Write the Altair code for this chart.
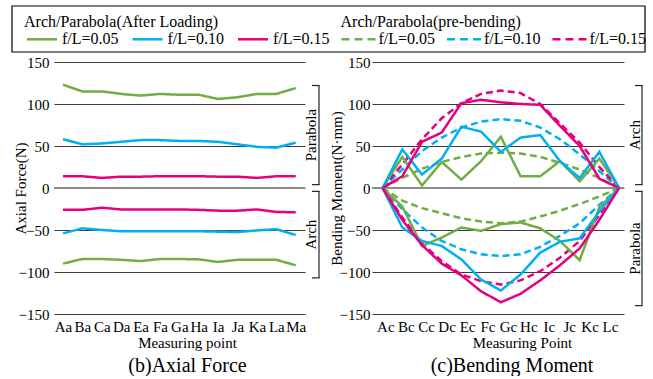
import altair as alt
import pandas as pd

FONT = "Liberation Serif"

fl_labels = ["f/L=0.05", "f/L=0.10", "f/L=0.15"]
fl_colors = ["#70AD47", "#00B0F0", "#E6007E"]

axial_points = ["Aa", "Ba", "Ca", "Da", "Ea", "Fa", "Ga", "Ha", "Ia", "Ja", "Ka", "La", "Ma"]
moment_labels = ["Ac", "Bc", "Cc", "Dc", "Ec", "Fc", "Gc", "Hc", "Ic", "Jc", "Kc", "Lc"]

# (b) Axial force (N) after loading
axial_parabola_005 = [123, 115, 115, 112, 110, 112, 111, 111, 106, 108, 112, 112, 119]
axial_parabola_010 = [58, 52, 53, 55, 57, 57, 56, 56, 55, 52, 49, 48, 54]
axial_parabola_015 = [14, 14, 12, 13.5, 13.5, 14, 14, 14, 13.5, 13.5, 12, 14, 14]
axial_arch_005 = [-90, -84.5, -84.5, -85.5, -87, -84.5, -84.5, -85, -88, -85.5, -85.5, -85.5, -92]
axial_arch_010 = [-54, -48, -50, -51.5, -51.5, -51.5, -51.5, -51.5, -52, -52.5, -50.5, -49, -56]
axial_arch_015 = [-26, -26, -23.5, -25.5, -25.5, -25.5, -25.5, -26, -27, -27, -25.5, -28.5, -29]

# (c) Bending moment (N*mm), 13 measured points
arch_after_005 = [0, 37, 3, 31, 10, 32, 61, 14, 14, 32, 8, 35, 0]
arch_after_010 = [0, 46, 16, 35, 73, 67, 43, 60, 63, 32, 12, 43, 0]
arch_after_015 = [0, 14, 55, 66, 101, 105, 102, 100, 99, 74, 50, 11, 0]
parab_after_005 = [0, -22, -69, -59, -47, -51, -43, -41, -48, -63, -86, -23, 0]
parab_after_010 = [0, -47, -63, -69, -85, -109, -122, -103, -77, -64, -60, -28, 0]
parab_after_015 = [0, -38, -68, -90, -104, -123, -136, -126, -110, -92, -72, -38, 0]
arch_pre_005 = [0, 12, 23, 31, 37, 41, 42, 41, 37, 30, 22, 12, 0]
arch_pre_010 = [0, 22, 44, 60, 72, 79, 82, 80, 72, 58, 40, 20, 0]
arch_pre_015 = [0, 28, 58, 83, 101, 112, 116, 113, 100, 77, 54, 25, 0]
parab_pre_005 = [0, -15, -24, -30, -36, -40, -42, -40, -34, -27, -19, -10, 0]
parab_pre_010 = [0, -25, -47, -63, -73, -79, -81, -79, -70, -57, -42, -20, 0]
parab_pre_015 = [0, -35, -66, -87, -103, -111, -115, -110, -99, -83, -63, -32, 0]

axial_bracket_labels = ["Parabola", "Arch"]
axial_bracket_top = [122, -4]
axial_bracket_bottom = [4, -107]
moment_bracket_labels = ["Arch", "Parabola"]
moment_bracket_top = [122, -4]
moment_bracket_bottom = [4, -140]

legend_titles = ["Arch/Parabola(After Loading)", "Arch/Parabola(pre-bending)"]


def long_df(series):
    rows = []
    for name, fl, kind, vals in series:
        for i, v in enumerate(vals):
            rows.append({"series": name, "fl": fl, "kind": kind, "idx": i, "value": v})
    return pd.DataFrame(rows)


axial_df = long_df([
    ("p005", fl_labels[0], "after", axial_parabola_005),
    ("p010", fl_labels[1], "after", axial_parabola_010),
    ("p015", fl_labels[2], "after", axial_parabola_015),
    ("a005", fl_labels[0], "after", axial_arch_005),
    ("a010", fl_labels[1], "after", axial_arch_010),
    ("a015", fl_labels[2], "after", axial_arch_015),
])

moment_df = long_df([
    ("ap005", fl_labels[0], "pre", arch_pre_005),
    ("ap010", fl_labels[1], "pre", arch_pre_010),
    ("ap015", fl_labels[2], "pre", arch_pre_015),
    ("pp005", fl_labels[0], "pre", parab_pre_005),
    ("pp010", fl_labels[1], "pre", parab_pre_010),
    ("pp015", fl_labels[2], "pre", parab_pre_015),
    ("aa005", fl_labels[0], "after", arch_after_005),
    ("aa010", fl_labels[1], "after", arch_after_010),
    ("aa015", fl_labels[2], "after", arch_after_015),
    ("pa005", fl_labels[0], "after", parab_after_005),
    ("pa010", fl_labels[1], "after", parab_after_010),
    ("pa015", fl_labels[2], "after", parab_after_015),
])

Y_DOMAIN = [-150, 150]
Y_TICKS = [-150, -100, -50, 0, 50, 100, 150]
color_scale = alt.Scale(domain=fl_labels, range=fl_colors)
dash_scale = alt.Scale(domain=["after", "pre"], range=[[1, 0], [7, 4]])


def y_axis(title, title_x, label_pad):
    return alt.Axis(
        values=Y_TICKS, grid=True, gridColor="#3c3c3c", gridWidth=1,
        domain=False, ticks=False, labelFont=FONT, labelFontSize=15,
        labelColor="black", labelPadding=label_pad, labelFlush=False,
        title=title, titleFont=FONT, titleFontSize=15, titleFontWeight="normal",
        titleColor="black", titleX=title_x, titleAngle=270, titleBaseline="bottom",
        titleAlign="center",
    )


def x_axis(title, values, label_expr, title_x):
    return alt.Axis(
        values=values, labelExpr=label_expr, grid=False, domain=False, ticks=False,
        labelFont=FONT, labelFontSize=15, labelColor="black", labelPadding=5,
        labelFlush=False, labelOverlap=False, labelAngle=0,
        title=title, titleFont=FONT, titleFontSize=15, titleFontWeight="normal",
        titleColor="black", titleX=title_x, titleY=21, titleBaseline="top",
        titleAlign="center",
    )


def panel(df, width, x_domain, xax, yax, br_labels, br_top, br_bottom, bx, tx, title, title_dx):
    yscale = alt.Scale(domain=Y_DOMAIN, nice=False, zero=False)
    lines = alt.Chart(df).mark_line(strokeWidth=2.5).encode(
        x=alt.X("idx:Q", scale=alt.Scale(domain=x_domain, nice=False, zero=False), axis=xax),
        y=alt.Y("value:Q", scale=yscale, axis=yax),
        color=alt.Color("fl:N", scale=color_scale, legend=None),
        strokeDash=alt.StrokeDash("kind:N", scale=dash_scale, legend=None),
        detail="series:N",
    )
    zero = alt.Chart(df).mark_rule(color="#8c8c8c", strokeWidth=1.5).encode(
        y=alt.datum(0, scale=yscale)
    )
    bdf = pd.DataFrame({"label": br_labels, "top": br_top, "bottom": br_bottom})
    bbase = alt.Chart(bdf)
    vline = bbase.mark_rule(color="#222222", strokeWidth=1.2).encode(
        x=alt.value(bx), y=alt.Y("top:Q", scale=yscale), y2="bottom:Q"
    )
    ttick = bbase.mark_rule(color="#222222", strokeWidth=1.2).encode(
        x=alt.value(bx - 7), x2=alt.value(bx + 0.6), y=alt.Y("top:Q", scale=yscale)
    )
    btick = bbase.mark_rule(color="#222222", strokeWidth=1.2).encode(
        x=alt.value(bx - 7), x2=alt.value(bx + 0.6), y=alt.Y("bottom:Q", scale=yscale)
    )
    btext = bbase.transform_calculate(mid="(datum.top + datum.bottom) / 2").mark_text(
        angle=270, font=FONT, fontSize=15, color="black", align="center", baseline="middle"
    ).encode(x=alt.value(tx), y=alt.Y("mid:Q", scale=yscale), text="label:N")
    return alt.layer(zero, lines, vline, ttick, btick, btext).properties(
        width=width, height=252,
        title=alt.TitleParams(title, orient="bottom", font=FONT, fontSize=20,
                              fontWeight="normal", color="black", anchor="middle",
                              dx=title_dx, offset=6),
    )


axial_expr = "[" + ",".join("'%s'" % s for s in axial_points) + "][round(datum.value)]"
left = panel(
    axial_df, 251, [-0.464, 12.48],
    x_axis("Measuring point", list(range(len(axial_points))), axial_expr, 133),
    y_axis("Axial Force(N)", -25.5, 5),
    axial_bracket_labels, axial_bracket_top, axial_bracket_bottom, 265, 256.5,
    "(b)Axial Force", 8,
)

tick_start, tick_step = 0.14, 1.0364
moment_ticks = [tick_start + tick_step * k for k in range(len(moment_labels))]
moment_expr = ("[" + ",".join("'%s'" % s for s in moment_labels) +
               "][round((datum.value - %g) / %g)]" % (tick_start, tick_step))
right = panel(
    moment_df, 252, [-0.537, 12.25],
    x_axis("Measuring Point", moment_ticks, moment_expr, 150),
    y_axis("Bending Moment(N\u00b7mm)", -27.3, 2),
    moment_bracket_labels, moment_bracket_top, moment_bracket_bottom, 270, 263,
    "(c)Bending Moment", 14,
)

# Legend panel (box spans from 42px left of the left plot to 591px right of it)
leg_df = pd.DataFrame({
    "item": list(range(6)),
    "label": fl_labels + fl_labels,
    "fl": fl_labels + fl_labels,
    "kind": ["after"] * 3 + ["pre"] * 3,
})
title_df = pd.DataFrame({"item": [0, 3], "title": legend_titles})
leg_x = alt.Scale(domain=[0, 6], range=[-42, 591], nice=False, zero=False)
box = alt.Chart(title_df.head(1)).mark_rect(
    fill=None, stroke="black", strokeWidth=1.2
).encode(x=alt.value(-42), x2=alt.value(591), y=alt.value(0), y2=alt.value(46))
leg_solid = alt.Chart(leg_df).transform_filter("datum.kind == 'after'").mark_rule(
    strokeWidth=2.5, xOffset=15, x2Offset=45
).encode(
    x=alt.X("item:Q", scale=leg_x, axis=None), x2="item:Q", y=alt.value(33.3),
    color=alt.Color("fl:N", scale=color_scale, legend=None),
)
leg_dash = alt.Chart(leg_df).transform_filter("datum.kind == 'pre'").mark_rule(
    strokeWidth=2.5, strokeDash=[8, 5], xOffset=13, x2Offset=47
).encode(
    x=alt.X("item:Q", scale=leg_x, axis=None), x2="item:Q", y=alt.value(33.3),
    color=alt.Color("fl:N", scale=color_scale, legend=None),
)
leg_text = alt.Chart(leg_df).mark_text(
    font=FONT, fontSize=16, color="black", align="left", baseline="alphabetic", dx=50
).encode(x=alt.X("item:Q", scale=leg_x, axis=None), y=alt.value(38), text="label:N")
leg_title = alt.Chart(title_df).mark_text(
    font=FONT, fontSize=16, color="black", align="left", baseline="alphabetic", dx=12
).encode(x=alt.X("item:Q", scale=leg_x, axis=None), y=alt.value(20.5), text="title:N")
legend_panel = alt.layer(box, leg_solid, leg_dash, leg_text, leg_title).properties(
    width=500, height=46,
)

body = alt.hconcat(left, right, spacing=8).resolve_scale(x="independent", y="independent")
chart = alt.vconcat(legend_panel, body, spacing=2).resolve_scale(
    x="independent", y="independent"
).properties(
    padding={"left": 11, "top": 5, "right": 0, "bottom": 0},
    background="white",
).configure_view(stroke=None)

chart.save("out.html", embed_options={"renderer": "svg", "actions": False})
